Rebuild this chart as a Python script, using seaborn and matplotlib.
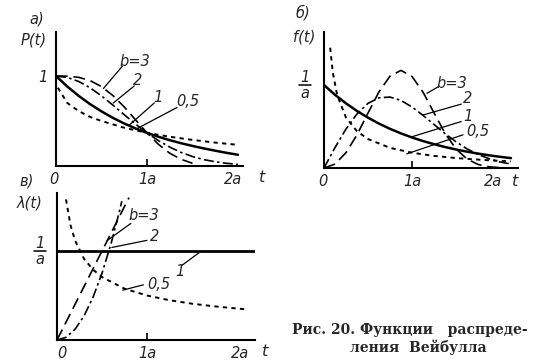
import matplotlib
matplotlib.use("Agg")
import matplotlib.pyplot as plt
import seaborn as sns

# ---- values (a = 1, y in units of 1 or 1/a) ----
# panel a) P(t)
t_a = [0, 0.125, 0.25, 0.375, 0.5, 0.625, 0.75, 0.875, 1.0, 1.125, 1.25,
       1.375, 1.5, 1.625, 1.75, 1.875, 2.0]
p_b3 = [1.0, 0.998, 0.985, 0.949, 0.882, 0.783, 0.656, 0.512, 0.368, 0.241,
        0.142, 0.074, 0.03]
p_b2 = [1.0, 0.984, 0.939, 0.869, 0.779, 0.677, 0.570, 0.465, 0.368, 0.282,
        0.210, 0.151, 0.105, 0.071, 0.047, 0.030, 0.018]
p_b1 = [1.0, 0.882, 0.779, 0.687, 0.607, 0.535, 0.472, 0.417, 0.368, 0.325,
        0.287, 0.253, 0.223, 0.195, 0.170, 0.146, 0.125]
t_a05 = [0.02, 0.125, 0.25, 0.375, 0.5, 0.75, 1.0, 1.25, 1.5, 1.75, 2.0]
p_b05 = [0.87, 0.70, 0.61, 0.545, 0.50, 0.425, 0.368, 0.325, 0.29, 0.26, 0.235]

# panel б) f(t)
t_b = [0, 0.125, 0.25, 0.375, 0.5, 0.625, 0.75, 0.875, 1.0, 1.125, 1.25,
       1.375, 1.5, 1.625, 1.75, 1.875, 2.0, 2.125]
f_b3 = [0, 0.047, 0.185, 0.400, 0.662, 0.918, 1.107, 1.176, 1.104, 0.915,
        0.666, 0.420, 0.230, 0.109, 0.043, 0.015, 0.004, 0.001]
f_b2 = [0, 0.246, 0.470, 0.652, 0.779, 0.846, 0.855, 0.814, 0.736, 0.635,
        0.525, 0.415, 0.316, 0.231, 0.164, 0.112, 0.073, 0.047]
f_b1 = [1.0, 0.882, 0.779, 0.687, 0.607, 0.535, 0.472, 0.417, 0.368, 0.325,
        0.287, 0.253, 0.223, 0.197, 0.174, 0.153, 0.135, 0.119]
t_b05 = [0.07, 0.1, 0.15, 0.25, 0.375, 0.5, 0.75, 1.0, 1.25, 1.5, 1.75, 2.0, 2.125]
f_b05 = [1.45, 1.15, 0.877, 0.607, 0.443, 0.349, 0.243, 0.184, 0.146, 0.120,
         0.101, 0.086, 0.080]

# panel в) lambda(t)
t_l1 = [0, 2.2]
l_b1 = [1.0, 1.0]
t_l05 = [0.1, 0.15, 0.2, 0.3, 0.4, 0.5, 0.75, 1.0, 1.25, 1.5, 1.75, 2.0, 2.1]
l_b05 = [1.58, 1.29, 1.12, 0.913, 0.791, 0.707, 0.577, 0.5, 0.447, 0.408,
         0.378, 0.354, 0.345]
t_ldash = [0, 0.2, 0.4, 0.6, 0.8]
l_dash = [0, 0.4, 0.8, 1.2, 1.6]
t_ldd = [0, 0.1, 0.2, 0.3, 0.4, 0.5, 0.6, 0.7, 0.72]
l_dd = [0, 0.03, 0.12, 0.27, 0.48, 0.75, 1.08, 1.47, 1.56]

sns.set_theme(style="white")
plt.rcParams['font.family'] = ['DejaVu Sans']

W, H = 539, 364
fig = plt.figure(figsize=(W / 100, H / 100), dpi=100)

LONG = (0, (7, 3.5))
DDOT = (0, (6, 2, 1.5, 2))
DOTS = (0, (2.2, 2.2))


def box(x0, y0, x1, y1):
    return fig.add_axes([x0 / W, 1 - y1 / H, (x1 - x0) / W, (y1 - y0) / H])


def setup(ax, xmax, ymax):
    ax.set_xlim(0, xmax)
    ax.set_ylim(0, ymax)
    ax.patch.set_alpha(0)
    for s in ['top', 'right']:
        ax.spines[s].set_visible(False)
    for s in ['left', 'bottom']:
        ax.spines[s].set_color('black')
        ax.spines[s].set_linewidth(1.5)
    ax.set_xticks([1])
    ax.set_yticks([])
    ax.tick_params(axis='x', direction='in', length=5, width=1.2,
                   color='black', labelbottom=False, bottom=True)
    ax.set_xlabel('')
    ax.set_ylabel('')


def curve(ax, x, y, ls, lw=1.3):
    sns.lineplot(x=x, y=y, ax=ax, color='black', linestyle=ls, linewidth=lw)


def lead(ax, txt, xy_text, xy_line_start, xy_line_end):
    ax.plot([xy_line_start[0], xy_line_end[0]],
            [xy_line_start[1], xy_line_end[1]], color='black', lw=0.9)
    ax.text(xy_text[0], xy_text[1], txt, fontsize=10.5, style='italic',
            ha='center', va='center')


def ftext(x, y, s, size=10.5, **kw):
    fig.text(x / W, 1 - y / H, s, fontsize=size, style='italic',
             ha='center', va='center', **kw)


def frac(x, y):
    ftext(x, y - 8, '1')
    ftext(x, y + 8, 'a')
    fig.add_artist(plt.Line2D([(x - 6) / W, (x + 6) / W],
                              [1 - y / H, 1 - y / H], color='black', lw=1.1))


# ---- a) ----
ax1 = box(56, 32, 243, 166)
setup(ax1, 2.055, 1.489)
curve(ax1, t_a[:len(p_b3)], p_b3, LONG, 1.2)
curve(ax1, t_a, p_b2, DDOT, 1.2)
curve(ax1, t_a, p_b1, '-', 1.8)
curve(ax1, t_a05, p_b05, DOTS, 1.4)
lead(ax1, 'b=3', (0.87, 1.16), (0.73, 1.11), (0.52, 0.86))
lead(ax1, '2', (0.9, 0.95), (0.86, 0.89), (0.63, 0.70))
lead(ax1, '1', (1.12, 0.76), (1.08, 0.70), (0.80, 0.45))
lead(ax1, '0,5', (1.45, 0.72), (1.33, 0.65), (0.88, 0.41))
ftext(37, 19, 'a)')
ftext(34, 40, 'P(t)')
ftext(43, 77, '1')
ftext(54, 179, '0')
ftext(147, 179, '1a')
ftext(233, 179, '2a')
ftext(262, 178, 't', 11.5)

# ---- б) ----
ax2 = box(324, 32, 518, 168)
setup(ax2, 2.205, 1.639)
curve(ax2, t_b, f_b3, LONG, 1.2)
curve(ax2, t_b, f_b2, DDOT, 1.2)
curve(ax2, t_b, f_b1, '-', 1.8)
curve(ax2, t_b05, f_b05, DOTS, 1.4)
lead(ax2, 'b=3', (1.45, 1.02), (1.30, 0.98), (1.17, 0.90))
lead(ax2, '2', (1.63, 0.84), (1.56, 0.77), (1.13, 0.64))
lead(ax2, '1', (1.63, 0.62), (1.56, 0.56), (0.98, 0.37))
lead(ax2, '0,5', (1.75, 0.44), (1.58, 0.40), (0.94, 0.17))
ftext(303, 13, 'б)')
ftext(304, 37, 'f(t)')
frac(305, 85)
ftext(323, 182, '0')
ftext(412, 182, '1a')
ftext(493, 182, '2a')
ftext(515, 182, 't', 11.5)

# ---- в) ----
ax3 = box(57, 193, 255, 340)
setup(ax3, 2.2, 1.652)
curve(ax3, t_l1, l_b1, '-', 2.0)
curve(ax3, t_l05, l_b05, DOTS, 1.4)
curve(ax3, t_ldash, l_dash, LONG, 1.2)
curve(ax3, t_ldd, l_dd, DDOT, 1.2)
lead(ax3, 'b=3', (0.97, 1.40), (0.82, 1.31), (0.56, 1.12))
lead(ax3, '2', (1.08, 1.16), (1.0, 1.12), (0.61, 1.04))
lead(ax3, '1', (1.37, 0.77), (1.39, 0.84), (1.59, 0.99))
lead(ax3, '0,5', (1.13, 0.62), (0.96, 0.62), (0.73, 0.56))
ftext(27, 181, 'в)')
ftext(30, 203, 'λ(t)')
frac(40, 251)
ftext(62, 353, '0')
ftext(147, 353, '1a')
ftext(240, 353, '2a')
ftext(265, 352, 't', 11.5)

# caption
fig.text(410 / W, 1 - 330 / H, 'Рис. 20. Функции   распреде-', fontsize=10,
         family='DejaVu Serif', weight='semibold', ha='center', va='center')
fig.text(418 / W, 1 - 347 / H, 'ления  Вейбулла', fontsize=10,
         family='DejaVu Serif', weight='semibold', ha='center', va='center')

fig.savefig('out.png', dpi=100, facecolor='white')
